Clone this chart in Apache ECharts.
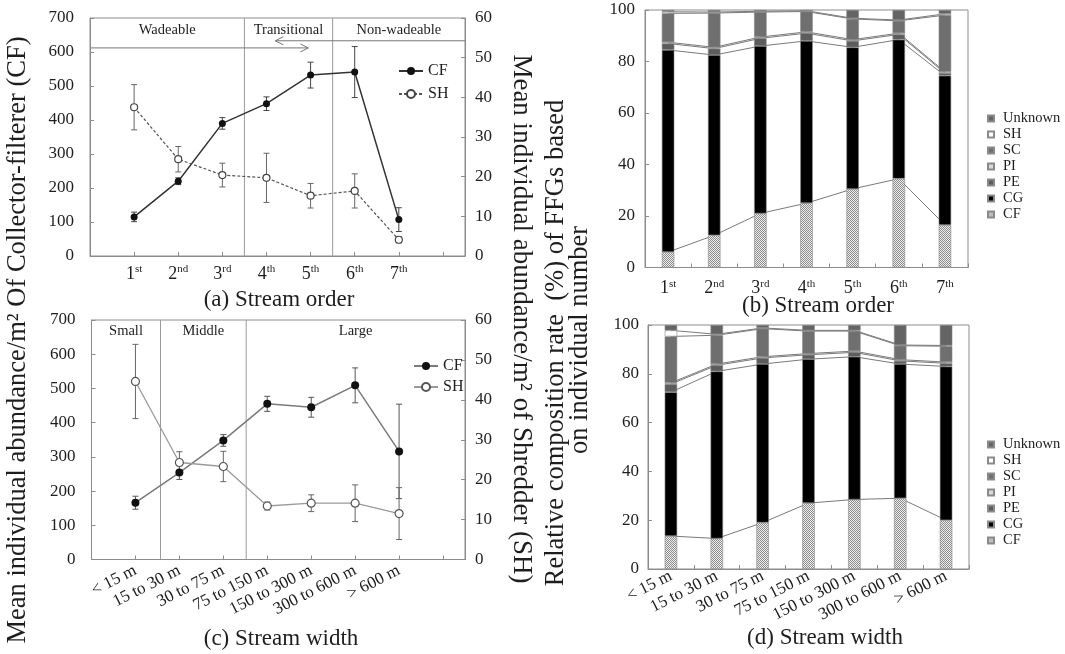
<!DOCTYPE html>
<html><head><meta charset="utf-8">
<script src="https://cdn.jsdelivr.net/npm/echarts@6/dist/echarts.min.js"></script>
<style>html,body{margin:0;padding:0;background:#fff}#c{width:1065px;height:654px}</style>
</head><body><div id="c"></div>
<script>
// ---------------- data ----------------
const orderCats = ['1st','2nd','3rd','4th','5th','6th','7th'];
const widthCats = ['< 15 m','15 to 30 m','30 to 75 m','75 to 150 m','150 to 300 m','300 to 600 m','> 600 m'];
const orderZones = ['Wadeable','Transitional','Non-wadeable'];
const orderZoneBounds = [3.5, 5.5];
const widthZones = ['Small','Middle','Large'];
const widthZoneBounds = [1.57, 3.52];

// (a) abundance by stream order
const cfOrder    = [115, 220, 390, 448, 532, 541, 107];
const cfOrderErr = [14, 10, 17, 20, 38, 75, 35];
const shOrder    = [37.5, 24.4, 20.4, 19.7, 15.2, 16.4, 4.1];
const shOrderErr = [5.7, 3.2, 3.0, 6.2, 3.1, 4.3, 0.8];
// (c) abundance by stream width
const cfWidth    = [166, 254, 348, 455, 445, 509, 316];
const cfWidthErr = [19, 20, 17, 22, 29, 51, 138];
const shWidth    = [44.6, 24.3, 23.3, 13.4, 14.1, 14.1, 11.5];
const shWidthErr = [9.3, 2.7, 3.8, 1.0, 2.1, 4.6, 6.5];

// (b) composition (%) by stream order
const ordCF  = [6, 12.5, 21, 25, 30.5, 34.5, 16.5];
const ordCG  = [78.5, 70, 65, 63, 55, 54, 58];
const ordPE  = [2.5, 2.5, 3, 3, 2.5, 2, 1];
const ordPI  = [0.5, 0.5, 0.5, 0.5, 0.5, 0.5, 0.5];
const ordSC  = [11.2, 13.3, 9.7, 7.9, 8, 4.8, 22];
const ordSH  = [0.6, 0.4, 0.3, 0.3, 0.3, 0.3, 0.5];
const ordUnk = [0.7, 0.8, 0.5, 0.3, 3.2, 3.9, 1.5];
// (d) composition (%) by stream width
const widCF  = [13.5, 12.5, 19, 27, 28.5, 29, 20];
const widCG  = [59, 68.5, 65, 59, 58.5, 55, 63];
const widPE  = [3.3, 2.5, 2.5, 1.8, 1.8, 1.3, 1.3];
const widPI  = [0.5, 0.5, 0.5, 0.5, 0.5, 0.5, 0.5];
const widSC  = [19, 11.8, 11.5, 9.2, 8.2, 5.7, 6.5];
const widSH  = [2.5, 0.4, 0.3, 0.3, 0.3, 0.3, 0.3];
const widUnk = [2.2, 3.8, 1.2, 2.2, 2.2, 8.2, 8.4];

const ffgNames = ['CF','CG','PE','PI','SC','SH','Unknown'];
const legendOrder = ['Unknown','SH','SC','PI','PE','CG','CF'];

// ---------------- styles ----------------
const FONT = '"Liberation Serif","Times New Roman",serif';
const AX = '#8c8c8c';
const TXT = '#1e1e1e';

const pc = document.createElement('canvas');
pc.width = 2; pc.height = 2;
const pctx = pc.getContext('2d');
pctx.fillStyle = '#ececec'; pctx.fillRect(0,0,2,2);
pctx.fillStyle = '#8e8e8e'; pctx.fillRect(0,0,1,1); pctx.fillRect(1,1,1,1);
const cfPattern = {image: pc, repeat: 'repeat'};
const ffgColors = [cfPattern, '#000000', '#5c5c5c', '#d9d9d9', '#6f6f6f', '#ffffff', '#646464'];

function supLabel(s){
  const m = /^(\d+)(\D*)$/.exec(s);
  return m ? '{n|' + m[1] + '}{s|' + m[2] + '}' : s;
}
const supRich = {
  n: {fontFamily: FONT, fontSize: 18, color: TXT, lineHeight: 20},
  s: {fontFamily: FONT, fontSize: 11, color: TXT, lineHeight: 12, verticalAlign: 'top'}
};

function pts(vals){ return vals.map((v,i)=>[i+1, v]); }
function errs(vals, e){ return vals.map((v,i)=>[i+1, v - e[i], v + e[i]]); }
function cum(arrs){
  const out = []; let acc = arrs[0].map(()=>0);
  arrs.forEach(a => { acc = acc.map((v,i)=>v + a[i]); out.push(acc.slice()); });
  return out;
}

function errSeries(xi, yi, data, color, cap){
  return {type:'custom', xAxisIndex:xi, yAxisIndex:yi, z:1, silent:true, clip:false, data,
    renderItem:(p, api)=>{
      const x = api.value(0);
      const a = api.coord([x, api.value(1)]), b = api.coord([x, api.value(2)]);
      const st = {stroke: color, lineWidth: 1};
      return {type:'group', children:[
        {type:'line', shape:{x1:a[0],y1:a[1],x2:b[0],y2:b[1]}, style:st},
        {type:'line', shape:{x1:a[0]-cap,y1:a[1],x2:a[0]+cap,y2:a[1]}, style:st},
        {type:'line', shape:{x1:b[0]-cap,y1:b[1],x2:b[0]+cap,y2:b[1]}, style:st}
      ]};
    }};
}

function zoneDecor(xi, yi, bounds, names, labelY, xmax, ymax, arrows){
  return {type:'custom', xAxisIndex:xi, yAxisIndex:yi, z:0, silent:true, clip:false, data:[[0,0]],
    renderItem:(p, api)=>{
      const ch = [];
      const st = {stroke:'#9a9a9a', lineWidth:1};
      bounds.forEach(b=>{
        const a = api.coord([b, 0]), c = api.coord([b, ymax]);
        ch.push({type:'line', shape:{x1:a[0],y1:a[1],x2:c[0],y2:c[1]}, style:st});
      });
      const edges = [0].concat(bounds).concat([xmax]);
      names.forEach((n,i)=>{
        const c = api.coord([(edges[i]+edges[i+1])/2, labelY]);
        ch.push({type:'text', x:c[0], y:c[1], style:{text:n, font:'14.5px ' + FONT, fill:TXT, align:'center', verticalAlign:'middle'}});
      });
      if (arrows){
        const ast = {stroke:'#777', lineWidth:1};
        const a1 = api.coord([0, 612]), a2 = api.coord([4.95, 612]);
        ch.push({type:'line', shape:{x1:a1[0],y1:a1[1],x2:a2[0],y2:a2[1]}, style:ast});
        ch.push({type:'polyline', shape:{points:[[a2[0]-8,a2[1]-4],[a2[0],a2[1]],[a2[0]-8,a2[1]+4]]}, style:Object.assign({fill:null}, ast)});
        const b1 = api.coord([xmax, 633]), b2 = api.coord([4.2, 633]);
        ch.push({type:'line', shape:{x1:b1[0],y1:b1[1],x2:b2[0],y2:b2[1]}, style:ast});
        ch.push({type:'polyline', shape:{points:[[b2[0]+8,b2[1]-4],[b2[0],b2[1]],[b2[0]+8,b2[1]+4]]}, style:Object.assign({fill:null}, ast)});
      }
      return {type:'group', children: ch};
    }};
}

function valX(grid, labelFn, rotate, margin){
  return {gridIndex:grid, type:'value', min:0, max:8.5, interval:1,
    axisLine:{lineStyle:{color:AX}}, axisTick:{inside:true, length:4, lineStyle:{color:AX}},
    splitLine:{show:false},
    axisLabel:{formatter:labelFn, rich:supRich, rotate:rotate, margin:margin, fontFamily:FONT, fontSize:17, color:TXT}};
}
function yAx(grid, max, interval, pos, margin){
  return {gridIndex:grid, type:'value', min:0, max:max, interval:interval, position:pos,
    axisLine:{show:true, lineStyle:{color:AX}}, axisTick:{show:true, inside:true, length:4, lineStyle:{color:AX}},
    splitLine:{show:false},
    axisLabel:{fontFamily:FONT, fontSize:17, color:TXT, margin:margin}};
}

const series = [];
// (a)
series.push(zoneDecor(0, 0, orderZoneBounds, orderZones, 665, 8.5, 700, true));
series.push(errSeries(0, 0, errs(cfOrder, cfOrderErr), '#444', 3));
series.push(errSeries(0, 1, errs(shOrder, shOrderErr), '#666', 3));
series.push({type:'line', name:'CF ', xAxisIndex:0, yAxisIndex:0, data:pts(cfOrder), z:3,
  symbol:'circle', symbolSize:7, lineStyle:{color:'#333', width:1.5}, itemStyle:{color:'#111'}});
series.push({type:'line', name:'SH ', xAxisIndex:0, yAxisIndex:1, data:pts(shOrder), z:3,
  symbol:'circle', symbolSize:7, lineStyle:{color:'#555', width:1.2, type:[3,2]},
  itemStyle:{color:'#fff', borderColor:'#444', borderWidth:1.2}});
// (c)
series.push(zoneDecor(2, 3, widthZoneBounds, widthZones, 668, 8.5, 700, false));
series.push(errSeries(2, 3, errs(cfWidth, cfWidthErr), '#555', 3));
series.push(errSeries(2, 4, errs(shWidth, shWidthErr), '#666', 3));
series.push({type:'line', name:'CF  ', xAxisIndex:2, yAxisIndex:3, data:pts(cfWidth), z:3,
  symbol:'circle', symbolSize:8, lineStyle:{color:'#7a7a7a', width:1.5}, itemStyle:{color:'#111'}});
series.push({type:'line', name:'SH  ', xAxisIndex:2, yAxisIndex:4, data:pts(shWidth), z:3,
  symbol:'circle', symbolSize:8, lineStyle:{color:'#9a9a9a', width:1.3},
  itemStyle:{color:'#fff', borderColor:'#555', borderWidth:1.2}});

// (b) and (d) stacked bars with series lines
function addStack(xi, yi, arrs, stack){
  arrs.forEach((a,k)=>{
    series.push({type:'bar', name:ffgNames[k], xAxisIndex:xi, yAxisIndex:yi, stack:stack, barWidth:12.5,
      data:a, z:3, itemStyle:{color:ffgColors[k], borderColor:'#8a8a8a', borderWidth:0.6}});
  });
  cum(arrs).slice(0, 6).forEach((c,k)=>{
    series.push({type:'line', name:'sl-' + stack + k, xAxisIndex:xi, yAxisIndex:yi, data:c, z:1, silent:true,
      symbol:'none', lineStyle:{color:'#7a7a7a', width:1}});
  });
}
addStack(1, 2, [ordCF, ordCG, ordPE, ordPI, ordSC, ordSH, ordUnk], 'b');
addStack(3, 5, [widCF, widCG, widPE, widPI, widSC, widSH, widUnk], 'd');

const catAxisBase = {
  axisLine:{lineStyle:{color:AX}}, axisTick:{show:true, inside:true, length:4, lineStyle:{color:AX}},
  splitLine:{show:false}
};

const option = {
  animation:false,
  backgroundColor:'#fff',
  grid:[
    {left:90, top:18, width:375, height:238, show:true, borderColor:AX, borderWidth:1},
    {left:645, top:10, width:323, height:257.5, show:true, borderColor:AX, borderWidth:1},
    {left:91.5, top:320, width:373.5, height:239.5, show:true, borderColor:AX, borderWidth:1},
    {left:648, top:325, width:321, height:244, show:true, borderColor:AX, borderWidth:1}
  ],
  xAxis:[
    valX(0, v => (Number.isInteger(v) && v >= 1 && v <= 7) ? supLabel(orderCats[v-1]) : '', 0, 8),
    Object.assign({gridIndex:1, type:'category', data:orderCats,
      axisLabel:{formatter:v=>supLabel(v), rich:supRich, margin:11, color:TXT, interval:0}}, catAxisBase),
    valX(2, v => (Number.isInteger(v) && v >= 1 && v <= 7) ? widthCats[v-1] : '', 27, 10),
    Object.assign({gridIndex:3, type:'category', data:widthCats,
      axisLabel:{rotate:27, margin:6, fontFamily:FONT, fontSize:17, color:TXT, interval:0}}, catAxisBase)
  ],
  yAxis:[
    yAx(0, 700, 100, 'left', 16),
    yAx(0, 60, 10, 'right', 10),
    yAx(1, 100, 20, 'left', 10),
    yAx(2, 700, 100, 'left', 16),
    yAx(2, 60, 10, 'right', 10),
    yAx(3, 100, 20, 'left', 9)
  ],
  legend:[
    {data:['CF ','SH '], orient:'vertical', left:393, top:58, itemWidth:24, itemHeight:10, itemGap:7,
      formatter:n=>n.trim(), textStyle:{fontFamily:FONT, fontSize:16, color:TXT, lineHeight:16}},
    {data:['CF  ','SH  '], orient:'vertical', left:408, top:353, itemWidth:24, itemHeight:10, itemGap:5,
      formatter:n=>n.trim(), textStyle:{fontFamily:FONT, fontSize:16, color:TXT, lineHeight:16}},
    {data:legendOrder, orient:'vertical', left:982, top:106, icon:'rect', itemWidth:6, itemHeight:6, itemGap:1,
      textStyle:{fontFamily:FONT, fontSize:14.5, color:TXT, lineHeight:14.5, padding:[0,0,0,4]}},
    {data:legendOrder, orient:'vertical', left:982, top:432, icon:'rect', itemWidth:6, itemHeight:6, itemGap:1,
      textStyle:{fontFamily:FONT, fontSize:14.5, color:TXT, lineHeight:14.5, padding:[0,0,0,4]}}
  ],
  graphic:[
    {type:'text', x:18, y:340, rotation:Math.PI/2, silent:true,
      style:{text:'Mean individual abundance/m\u00b2 Of Collector-filterer (CF)', font:'26.5px ' + FONT, fill:TXT, align:'center', verticalAlign:'middle'}},
    {type:'text', x:521, y:319, rotation:-Math.PI/2, silent:true,
      style:{text:'Mean individual abundance/m\u00b2 of Shredder (SH)', font:'27px ' + FONT, fill:TXT, align:'center', verticalAlign:'middle'}},
    {type:'text', x:556, y:343, rotation:Math.PI/2, silent:true,
      style:{text:'Relative composition rate  (%) of FFGs based', font:'26.5px ' + FONT, fill:TXT, align:'center', verticalAlign:'middle'}},
    {type:'text', x:580, y:340, rotation:Math.PI/2, silent:true,
      style:{text:'on individual number', font:'26.5px ' + FONT, fill:TXT, align:'center', verticalAlign:'middle'}},
    {type:'text', x:279, y:300, silent:true, style:{text:'(a) Stream order', font:'23px ' + FONT, fill:TXT, align:'center', verticalAlign:'middle'}},
    {type:'text', x:818, y:306, silent:true, style:{text:'(b) Stream order', font:'23px ' + FONT, fill:TXT, align:'center', verticalAlign:'middle'}},
    {type:'text', x:281, y:639, silent:true, style:{text:'(c) Stream width', font:'23px ' + FONT, fill:TXT, align:'center', verticalAlign:'middle'}},
    {type:'text', x:825, y:638, silent:true, style:{text:'(d) Stream width', font:'23px ' + FONT, fill:TXT, align:'center', verticalAlign:'middle'}}
  ],
  series: series
};

const chart = echarts.init(document.getElementById('c'), null, {renderer:'canvas'});
chart.setOption(option);
</script>
</body></html>
